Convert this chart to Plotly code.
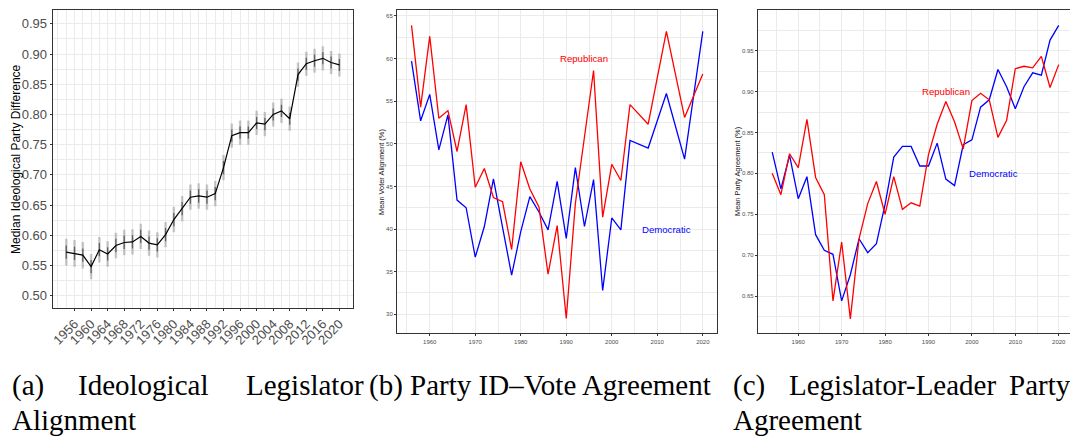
import plotly.graph_objects as go

W, H = 1070, 438

# ---- (a) median ideological party difference, with two interval widths ----
years_a = [1954, 1956, 1958, 1960, 1962, 1964, 1966, 1968, 1970, 1972, 1974, 1976,
           1978, 1980, 1982, 1984, 1986, 1988, 1990, 1992, 1994, 1996, 1998, 2000,
           2002, 2004, 2006, 2008, 2010, 2012, 2014, 2016, 2018, 2020]
ideo_diff = [0.572, 0.570, 0.567, 0.548, 0.576, 0.569, 0.583, 0.588, 0.589, 0.598,
             0.587, 0.584, 0.601, 0.626, 0.644, 0.663, 0.665, 0.663, 0.669, 0.712,
             0.765, 0.770, 0.770, 0.786, 0.784, 0.800, 0.806, 0.793, 0.866, 0.884,
             0.889, 0.893, 0.886, 0.882]
ideo_ci_outer = [0.022, 0.022, 0.022, 0.021, 0.021, 0.021, 0.021, 0.021, 0.021, 0.021,
                 0.021, 0.021, 0.021, 0.021, 0.021, 0.021, 0.021, 0.021, 0.021, 0.021,
                 0.020, 0.020, 0.020, 0.020, 0.020, 0.020, 0.020, 0.020, 0.020, 0.020,
                 0.020, 0.020, 0.019, 0.019]
ideo_ci_inner = [0.011, 0.011, 0.011, 0.011, 0.011, 0.011, 0.011, 0.011, 0.011, 0.011,
                 0.011, 0.011, 0.011, 0.011, 0.011, 0.011, 0.011, 0.011, 0.011, 0.011,
                 0.010, 0.010, 0.010, 0.010, 0.010, 0.010, 0.010, 0.010, 0.010, 0.010,
                 0.010, 0.010, 0.010, 0.010]
ticks_a = [1956, 1960, 1964, 1968, 1972, 1976, 1980, 1984, 1988, 1992, 1996, 2000,
           2004, 2008, 2012, 2016, 2020]

# ---- (b) party ID - vote agreement (%) ----
years_b = [1956, 1958, 1960, 1962, 1964, 1966, 1968, 1970, 1972, 1974, 1976, 1978,
           1980, 1982, 1984, 1986, 1988, 1990, 1992, 1994, 1996, 1998, 2000, 2002,
           2004, 2008, 2012, 2016, 2020]
vote_rep = [63.9, 54.3, 62.6, 53.0, 53.9, 49.1, 54.6, 44.9, 47.1, 43.7, 43.2, 37.6,
            47.9, 44.7, 42.6, 34.7, 40.4, 29.5, 43.0, 50.5, 58.6, 41.4, 47.6, 45.7,
            54.6, 52.3, 63.2, 53.1, 58.2]
vote_dem = [59.7, 52.7, 55.8, 49.3, 53.4, 43.4, 42.5, 36.7, 40.3, 45.9, 40.2, 34.6,
            39.7, 43.8, 42.0, 39.9, 45.6, 38.9, 47.2, 40.3, 45.8, 32.8, 41.3, 39.9,
            50.4, 49.5, 55.9, 48.2, 63.2]

# ---- (c) legislator-leader party agreement ----
years_c = years_a
leader_rep = [0.800, 0.774, 0.824, 0.807, 0.866, 0.795, 0.774, 0.644, 0.716, 0.622,
              0.720, 0.763, 0.790, 0.750, 0.796, 0.756, 0.764, 0.760, 0.823, 0.860,
              0.888, 0.863, 0.830, 0.889, 0.898, 0.890, 0.844, 0.865, 0.928, 0.931,
              0.929, 0.943, 0.905, 0.933]
leader_dem = [0.826, 0.781, 0.822, 0.769, 0.796, 0.725, 0.706, 0.701, 0.644, 0.676,
              0.720, 0.703, 0.714, 0.762, 0.820, 0.833, 0.833, 0.809, 0.809, 0.837,
              0.793, 0.785, 0.835, 0.841, 0.881, 0.890, 0.927, 0.906, 0.879, 0.906,
              0.923, 0.920, 0.963, 0.981]

SANS = "Liberation Sans, Arial, Helvetica, sans-serif"
SERIF = "Liberation Serif, Times New Roman, serif"
GRID = "#EBEBEB"
FRAME = "#333333"
TICKTXT = "#4D4D4D"
RED = "#FF0000"
BLUE = "#0000FF"


def px_x(p):
    return p / W


def px_y(p):
    return 1 - p / H


fig = go.Figure()

# (a) interval bars then the median line
fig.add_trace(go.Scatter(
    x=years_a, y=ideo_diff, mode="markers", marker=dict(size=1, opacity=0),
    error_y=dict(type="data", array=ideo_ci_outer, color="rgba(0,0,0,0.2)",
                 thickness=2.5, width=0),
    xaxis="x", yaxis="y", hoverinfo="skip", showlegend=False))
fig.add_trace(go.Scatter(
    x=years_a, y=ideo_diff, mode="markers", marker=dict(size=1, opacity=0),
    error_y=dict(type="data", array=ideo_ci_inner, color="rgba(0,0,0,0.5)",
                 thickness=1.3, width=0),
    xaxis="x", yaxis="y", hoverinfo="skip", showlegend=False))
fig.add_trace(go.Scatter(
    x=years_a, y=ideo_diff, mode="lines", line=dict(color="#000000", width=1.2),
    xaxis="x", yaxis="y", showlegend=False))

# (b)
fig.add_trace(go.Scatter(x=years_b, y=vote_dem, mode="lines",
                         line=dict(color=BLUE, width=1.3),
                         xaxis="x2", yaxis="y2", showlegend=False))
fig.add_trace(go.Scatter(x=years_b, y=vote_rep, mode="lines",
                         line=dict(color=RED, width=1.3),
                         xaxis="x2", yaxis="y2", showlegend=False))

# (c)
fig.add_trace(go.Scatter(x=years_c, y=leader_dem, mode="lines",
                         line=dict(color=BLUE, width=1.3),
                         xaxis="x3", yaxis="y3", showlegend=False))
fig.add_trace(go.Scatter(x=years_c, y=leader_rep, mode="lines",
                         line=dict(color=RED, width=1.3),
                         xaxis="x3", yaxis="y3", showlegend=False))


def axis_common(size, mirror=True):
    return dict(showline=True, mirror=mirror, linecolor=FRAME, linewidth=1,
                ticks="outside", ticklen=2, tickcolor=FRAME, tickwidth=1,
                gridcolor=GRID, gridwidth=1, zeroline=False,
                tickfont=dict(family=SANS, size=size, color=TICKTXT))


xa = axis_common(13)
xa.update(domain=[px_x(50.7), px_x(351.7)], range=[1950.7, 2023.3], anchor="y",
          tickmode="array", tickvals=ticks_a, ticktext=[str(t) for t in ticks_a],
          tickangle=-45,
          minor=dict(tick0=1954, dtick=2, showgrid=True, gridcolor=GRID, gridwidth=0.8))
ya = axis_common(13)
ya.update(domain=[px_y(308.3), px_y(10)], range=[0.479, 0.973], anchor="x",
          tick0=0.5, dtick=0.05, tickformat=".2f",
          minor=dict(tick0=0.5, dtick=0.025, showgrid=True, gridcolor=GRID, gridwidth=0.8))

xb = axis_common(6)
xb.update(domain=[px_x(395.7), px_x(716.7)], range=[1952.8, 2023.2], anchor="y2",
          tick0=1960, dtick=10,
          minor=dict(tick0=1955, dtick=5, showgrid=True, gridcolor=GRID, gridwidth=0.8))
yb = axis_common(6)
yb.update(domain=[px_y(333.3), px_y(10)], range=[27.77, 65.7], anchor="x2",
          tick0=30, dtick=5,
          minor=dict(tick0=27.5, dtick=2.5, showgrid=True, gridcolor=GRID, gridwidth=0.8))

xc = axis_common(6)
xc.update(domain=[px_x(757.3), 1.0], range=[1950.7, 2022.6], anchor="y3",
          tick0=1960, dtick=10,
          minor=dict(tick0=1955, dtick=5, showgrid=True, gridcolor=GRID, gridwidth=0.8))
yc = axis_common(6, mirror=False)
yc.update(domain=[px_y(333.3), px_y(10)], range=[0.6044, 0.9998], anchor="x3",
          tick0=0.6, dtick=0.05, tickformat=".2f",
          minor=dict(tick0=0.6, dtick=0.025, showgrid=True, gridcolor=GRID, gridwidth=0.8))

annotations = [
    # axis titles
    dict(text="Median Ideological Party Difference", x=px_x(14), y=px_y(159),
         textangle=-90, font=dict(family=SANS, size=12, color="#000000")),
    dict(text="Mean Voter Alignment (%)", x=px_x(380), y=px_y(171.7),
         textangle=-90, font=dict(family=SANS, size=7.4, color="#1A1A1A")),
    dict(text="Mean Party Agreement (%)", x=px_x(736.7), y=px_y(171.7),
         textangle=-90, font=dict(family=SANS, size=7.4, color="#1A1A1A")),
    # party labels inside panels
    dict(text="Republican", x=1994, y=60, xref="x2", yref="y2",
         font=dict(family=SANS, size=9.6, color=RED)),
    dict(text="Democratic", x=2012, y=40, xref="x2", yref="y2",
         font=dict(family=SANS, size=9.6, color=BLUE)),
    dict(text="Republican", x=1994, y=0.90, xref="x3", yref="y3",
         font=dict(family=SANS, size=9.6, color=RED)),
    dict(text="Democratic", x=2005, y=0.80, xref="x3", yref="y3",
         font=dict(family=SANS, size=9.6, color=BLUE)),
]
for a in annotations:
    a.setdefault("xref", "paper")
    a.setdefault("yref", "paper")
    a.update(showarrow=False, xanchor="center", yanchor="middle")

# sub-figure captions (justified words placed individually)
caption_words = [
    ("(a)", 8, 385), ("Ideological", 74, 385), ("Legislator", 242, 385),
    ("(b) Party ID\u2013Vote Agreement", 366, 385),
    ("(c)", 730, 385), ("Legislator-Leader", 786, 385), ("Party", 1007, 385),
    ("Alignment", 8, 420), ("Agreement", 730, 420),
]
for txt, x0, yc0 in caption_words:
    annotations.append(dict(text=txt, x=px_x(x0), y=px_y(yc0), xref="paper", yref="paper",
                            xanchor="left", yanchor="middle", showarrow=False,
                            font=dict(family=SERIF, size=29, color="#000000")))

fig.update_layout(
    width=W, height=H, margin=dict(l=0, r=0, t=0, b=0),
    paper_bgcolor="#FFFFFF", plot_bgcolor="#FFFFFF",
    xaxis=xa, yaxis=ya, xaxis2=xb, yaxis2=yb, xaxis3=xc, yaxis3=yc,
    annotations=annotations, showlegend=False,
)

fig.write_html("out.html")
